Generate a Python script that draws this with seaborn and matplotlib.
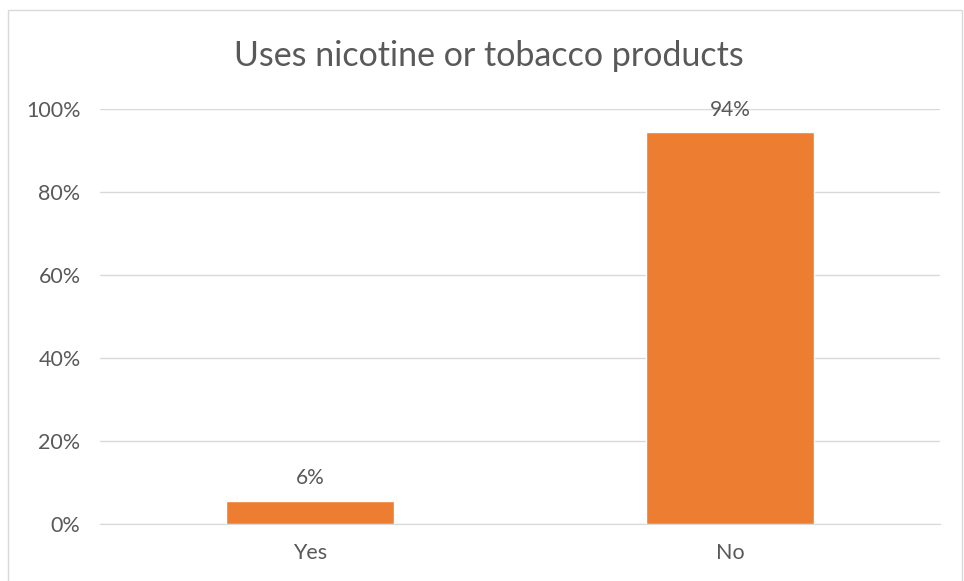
import pandas as pd
import numpy as np
import seaborn as sns
import matplotlib.pyplot as plt
from matplotlib.ticker import PercentFormatter
from matplotlib.patches import Rectangle

# chart data
categories = ["Yes", "No"]
shares = [0.056, 0.944]
labels = ["6%", "94%"]

df = pd.DataFrame({"answer": categories, "share": shares})

sns.set_style("white")
plt.rcParams['font.family'] = ['Lato', 'DejaVu Sans']

grey = "#595959"
fig = plt.figure(figsize=(9.64, 5.81), dpi=100)
ax = fig.add_axes([100/964, 1 - 524/581, 840/964, 415/581])

sns.barplot(data=df, x="answer", y="share", color="#ED7D31", width=0.4, saturation=1, ax=ax, zorder=3)

for p, lab in zip(ax.patches, labels):
    ax.annotate(lab, (p.get_x() + p.get_width()/2, p.get_height()),
                xytext=(0, 9), textcoords="offset points", ha="center", va="bottom",
                fontsize=15, color=grey)

ax.set_ylim(0, 1.0)
ax.set_xlim(-0.5, 1.5)
ax.set_yticks(np.arange(0, 1.01, 0.2))
ax.yaxis.set_major_formatter(PercentFormatter(1.0, decimals=0))
ax.grid(axis="y", color="#D9D9D9", linewidth=1, zorder=0)
ax.tick_params(axis="both", colors=grey, labelsize=15.5, length=0)
ax.tick_params(axis="y", pad=14)
ax.tick_params(axis="x", pad=14)
ax.set_xlabel("")
ax.set_ylabel("")
for s in ["top", "right", "left"]:
    ax.spines[s].set_visible(False)
ax.spines["bottom"].set_color("#D9D9D9")

fig.text(489/964, 1 - 56/581, "Uses nicotine or tobacco products", ha="center", va="center",
         fontsize=24.5, color=grey)

# outer chart border
fig.patches.append(Rectangle((8/964, -0.01), 954/964, 1 - 10/581 + 0.01, transform=fig.transFigure,
                             fill=False, edgecolor="#D9D9D9", linewidth=1))

fig.savefig("out.png", dpi=100)
